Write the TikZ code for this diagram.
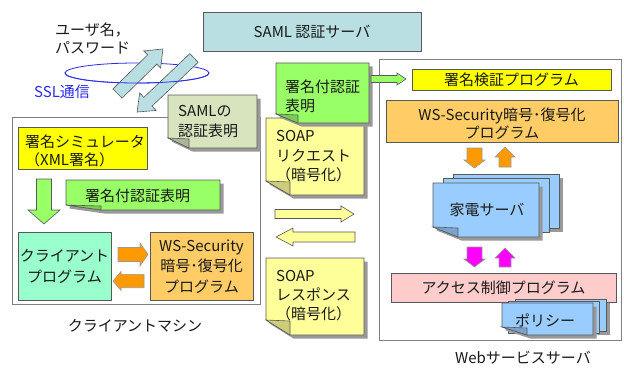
\documentclass[tikz,border=0pt]{standalone}
\usepackage{fontspec}
\setmainfont{Noto Sans CJK JP}
\definecolor{samlc}{HTML}{B9DFE3}
\definecolor{yel}{HTML}{FFFF00}
\definecolor{lgreen}{HTML}{99FF66}
\definecolor{olive}{HTML}{D7E4BD}
\definecolor{mint}{HTML}{99FFCC}
\definecolor{lorange}{HTML}{FFCC66}
\definecolor{orng}{HTML}{FF9900}
\definecolor{lyel}{HTML}{FFFF99}
\definecolor{lblue}{HTML}{99CCFF}
\definecolor{magen}{HTML}{FF00FF}
\definecolor{pinkc}{HTML}{FFCCCC}
\definecolor{sslblue}{HTML}{2B2BF0}
\newcommand\barrow[8]{%
  \begin{scope}[shift={(#2,#3)},rotate=#4]
    \draw[#1] (0,-#6) -- ({#5-#8},-#6) -- ({#5-#8},-#7) -- (#5,0) -- ({#5-#8},#7) -- ({#5-#8},#6) -- (0,#6) -- cycle;
  \end{scope}}
\newcommand\notebox[7]{%
  \fill[black!40] ({#2+3.5},{#3+3.5}) -- ({#4+3.5},{#3+3.5}) -- ({#4+3.5},{#5+3.5}) -- ({#2+#6+3.5},{#5+3.5}) -- ({#2+3.5},{#5-#7+3.5}) -- cycle;
  \draw[ln, fill=#1] (#2,#3) -- (#4,#3) -- (#4,#5) -- ({#2+#6},#5) -- (#2,{#5-#7}) -- cycle;
  \draw[ln, fill=#1!80!black] (#2,{#5-#7}) -- ({#2+#6},{#5-#7+1}) -- ({#2+#6},#5) -- cycle;}
\newcommand\docstack[9]{%
  \fill[black!40] ({#1+2*#5+3.5},{#2+2*#6+3.5}) rectangle ({#3+2*#5+3.5},{#4+2*#6+3.5});
  \draw[ln, fill=#9] ({#1+2*#5},{#2+2*#6}) rectangle ({#3+2*#5},{#4+2*#6});
  \draw[ln, fill=#9] ({#1+#5},{#2+#6}) rectangle ({#3+#5},{#4+#6});
  \notebox{#9}{#1}{#2}{#3}{#4}{#7}{#8}}
\begin{document}
\begin{tikzpicture}[x=1pt,y=-1pt,
  ln/.style={draw=black!65, line width=0.6pt},
  txt/.style={font=\fontsize{15}{20}\selectfont, inner sep=0pt, text=black!90},
  boxn/.style={ln, inner sep=0pt},
  outer/.style={draw=black!50, line width=0.6pt, fill=white},
  diag/.style={ln, fill=samlc},
  gr/.style={ln, fill=lgreen},
  orr/.style={ln, draw=black!40, fill=orng},
  yl/.style={ln, fill=lyel},
  mg/.style={ln, draw=black!40, fill=magen},
]
\useasboundingbox (0,0) rectangle (624,369);
\fill[white] (0,0) rectangle (624,369);

% outer boxes
\draw[outer] (12,117) rectangle (260,304);
\draw[outer] (379,59) rectangle (621,340);

% SAML server
\node[boxn, fill=samlc, minimum width=218, minimum height=39] (saml) at (312,31.5) {};
\node[txt] (samlt) at (312,31.5) {SAML 認証サーバ};

% user / password
\node[txt, anchor=west, align=left, font=\fontsize{15}{18}\selectfont] (userpw) at (55,39) {ユーザ名，\\パスワード};

% SSL ellipse (back) and arrows
\draw[sslblue, line width=0.8pt] (137,73) ellipse [x radius=72, y radius=10];
\barrow{diag}{117.5}{93.5}{44.4}{63.6}{6.5}{12}{15}
\barrow{diag}{194}{58}{223.5}{78.5}{6}{12}{15}
\begin{scope}
  \clip (60,73) rectangle (215,90);
  \draw[sslblue, line width=0.8pt] (137,73) ellipse [x radius=72, y radius=10];
\end{scope}
\node[txt, text=sslblue] (ssl) at (62,92) {SSL通信};

% client side
\node[boxn, fill=yel, minimum width=129, minimum height=42] (sim) at (82.5,148) {};
\node[txt, anchor=west, align=left, font=\fontsize{15}{18}\selectfont] (simt) at (25,151) {署名シミュレータ\\（XML署名）};
\barrow{gr}{44}{179}{-90}{45}{7.5}{16}{14}
\notebox{lgreen}{66}{180}{220}{210}{35}{5}
\node[txt] (sigl) at (137.5,196) {署名付認証表明};
\node[boxn, fill=mint, minimum width=93, minimum height=68] (client) at (64.5,266) {};
\node[txt, align=center, font=\fontsize{15}{21}\selectfont] (clientt) at (64.5,266) {クライアント\\プログラム};
\node[boxn, fill=lorange, minimum width=103, minimum height=68] (wsl) at (201.5,266) {};
\node[txt, align=center, font=\fontsize{15}{20.5}\selectfont] (wslt) at (201.5,266.5) {WS-Security\\暗号･復号化\\プログラム};
\barrow{orr}{118}{254.5}{0}{30}{7}{11.5}{8}
\barrow{orr}{144}{281}{180}{31}{6.7}{9.5}{8}
\node[txt] (cm) at (135,326) {クライアントマシン};

% SAML assertion note
\notebox{olive}{168}{95}{257}{148}{21}{10}
\node[txt, anchor=west, align=left] (samlnt) at (178,122) {SAMLの\\認証表明};

% middle column
\notebox{lyel}{266}{118}{364}{195}{24}{14}
\node[txt, anchor=west, align=left, font=\fontsize{15}{19.5}\selectfont] (reqt) at (276,156.5) {SOAP\\リクエスト\\（暗号化）};
\notebox{lgreen}{276}{63}{369}{123}{22}{9}
\node[txt, anchor=west, align=left, font=\fontsize{15}{19}\selectfont] (sigm) at (285,96.5) {署名付認証\\表明};
\barrow{yl}{275}{214}{0}{79}{4.5}{8}{13}
\barrow{yl}{355}{237}{180}{79}{5}{9}{17}
\notebox{lyel}{266}{258}{364}{335}{24}{15}
\node[txt, anchor=west, align=left, font=\fontsize{15}{19}\selectfont] (rest) at (276,296) {SOAP\\レスポンス\\（暗号化）};

% web service server
\barrow{gr}{371}{79}{0}{35}{3.5}{6}{9}
\node[boxn, fill=yel, minimum width=199, minimum height=21] (verify) at (511.5,79.5) {};
\node[txt] (verifyt) at (511.5,79.5) {署名検証プログラム};
\node[boxn, fill=lorange, minimum width=232, minimum height=42] (wsr) at (502,121) {};
\node[txt, align=center, font=\fontsize{15}{18}\selectfont] (wsrt) at (502,124) {WS-Security暗号･復号化\\プログラム};
\barrow{orr}{474.5}{148}{-90}{20}{7.5}{10.5}{8}
\barrow{orr}{505}{167}{90}{20}{6}{10}{10}
\docstack{433}{183}{539}{237}{10}{-4.5}{25}{10}{lblue}
\node[txt] (kaden) at (487,210) {家電サーバ};
\barrow{mg}{474.5}{247}{-90}{20}{7.5}{10.5}{8}
\barrow{mg}{505}{267}{90}{19}{6}{10}{10}
\node[boxn, fill=pinkc, minimum width=225, minimum height=29] (access) at (503.5,287.5) {};
\node[txt] (accesst) at (503.5,288) {アクセス制御プログラム};
\docstack{502}{303}{593}{335}{6.5}{-1.7}{25}{8}{lblue}
\node[txt] (policy) at (545,320) {ポリシー};
\node[txt] (web) at (523,358) {Webサービスサーバ};
\end{tikzpicture}
\end{document}
